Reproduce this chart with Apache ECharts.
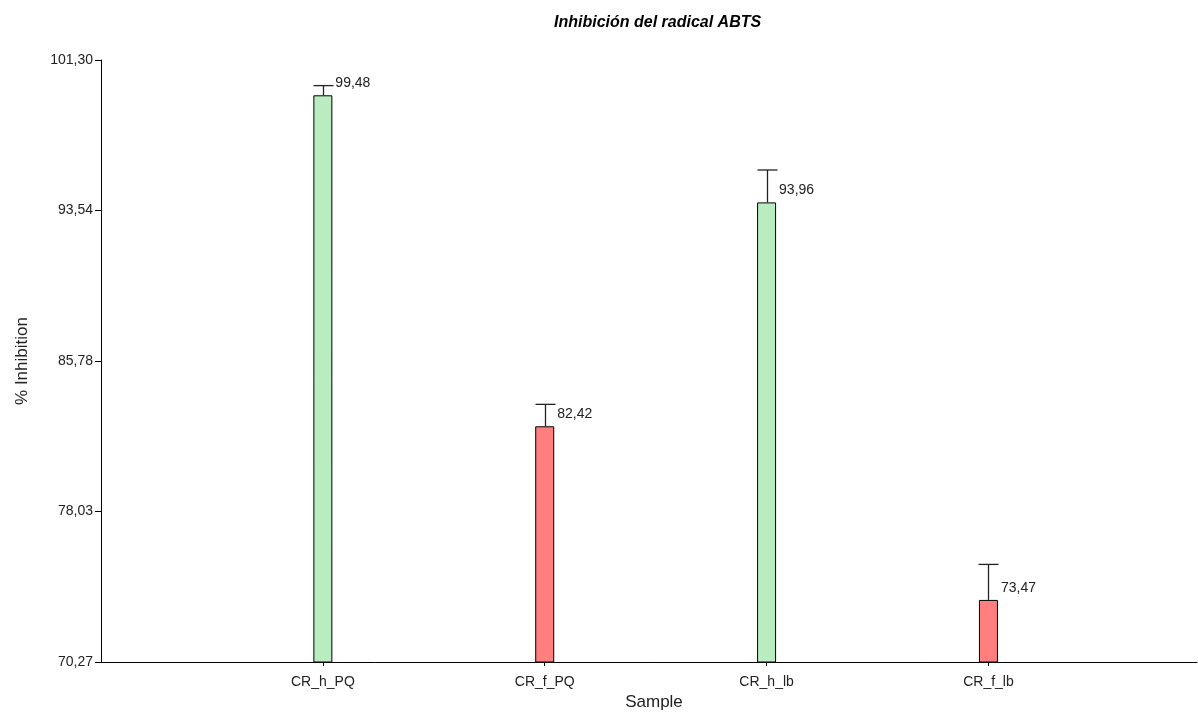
<!DOCTYPE html>
<html>
<head>
<meta charset="utf-8">
<script src="https://cdn.jsdelivr.net/npm/echarts@6/dist/echarts.min.js"></script>
<style>html,body{margin:0;padding:0;background:#fff}#c{width:1198px;height:714px}</style>
</head>
<body>
<div id="c"></div>
<script>
var categories = ['CR_h_PQ', 'CR_f_PQ', 'CR_h_lb', 'CR_f_lb'];
var values = [99.48, 82.42, 93.96, 73.47];
var errors = [0.5, 1.13, 1.67, 1.83];
var barColors = ['#b9ecc0', '#ff7f7f', '#b9ecc0', '#ff7f7f'];
var yTicks = [70.27, 78.03, 85.78, 93.54, 101.30];
var xPositions = [1, 2, 3, 4];

function fmt(v) { return v.toFixed(2).replace('.', ','); }

var chart = echarts.init(document.getElementById('c'), null, {renderer: 'canvas'});
var barData = values.map(function (v, i) {
  return {value: [xPositions[i], v], itemStyle: {color: barColors[i]}};
});
var errData = values.map(function (v, i) { return [xPositions[i], v, v + errors[i]]; });

chart.setOption({
  animation: false,
  title: {
    text: 'Inhibición del radical ABTS', left: 549, top: 10,
    textStyle: {fontFamily: 'Liberation Sans', fontSize: 16, fontWeight: 'bold', fontStyle: 'italic', color: '#000'}
  },
  grid: {left: 101, right: 1, top: 60, bottom: 52, containLabel: false, outerBoundsMode: 'none'},
  xAxis: {
    type: 'value', min: 0, max: 4.94,
    name: 'Sample', nameLocation: 'middle', nameGap: 32,
    nameTextStyle: {fontFamily: 'Liberation Sans', fontSize: 17, color: '#222', padding: [0, 0, 0, 10]},
    axisLine: {lineStyle: {color: '#000', width: 1}},
    axisTick: {show: true, length: 4, lineStyle: {color: '#000'}, customValues: xPositions},
    axisLabel: {
      customValues: xPositions, margin: 13,
      fontFamily: 'Liberation Sans', fontSize: 14, color: '#222',
      formatter: function (v) { return categories[Math.round(v) - 1] || ''; }
    },
    splitLine: {show: false}
  },
  yAxis: {
    type: 'value', min: 70.27, max: 101.30,
    name: '% Inhibition', nameLocation: 'middle', nameGap: 70, nameRotate: 90,
    nameTextStyle: {fontFamily: 'Liberation Sans', fontSize: 17, color: '#222'},
    axisLine: {show: true, lineStyle: {color: '#000', width: 1}},
    axisTick: {show: true, length: 6, lineStyle: {color: '#000'}, customValues: yTicks},
    axisLabel: {
      customValues: yTicks, margin: 8,
      fontFamily: 'Liberation Sans', fontSize: 14, color: '#222',
      formatter: function (v) { return fmt(v); }
    },
    splitLine: {show: false}
  },
  series: [
    {
      type: 'bar', data: barData, barWidth: 19,
      itemStyle: {borderColor: '#000', borderWidth: 1},
      label: {
        show: true,
        position: [22, -12],
        verticalAlign: 'middle', align: 'left',
        fontFamily: 'Liberation Sans', fontSize: 14, color: '#222',
        formatter: function (p) { return fmt(p.value[1]); }
      },
      z: 2
    },
    {
      type: 'custom', data: errData,
      renderItem: function (params, api) {
        var x = api.value(0);
        var lo = api.coord([x, api.value(1)]);
        var hi = api.coord([x, api.value(2)]);
        var cx = Math.round(lo[0]) + 0.5;
        var hw = 10;
        return {
          type: 'group',
          children: [
            {type: 'line', shape: {x1: cx, y1: lo[1], x2: cx, y2: hi[1]}, style: {stroke: '#222', lineWidth: 1.3}},
            {type: 'line', shape: {x1: cx - hw, y1: hi[1], x2: cx + hw, y2: hi[1]}, style: {stroke: '#222', lineWidth: 1.3}}
          ]
        };
      },
      z: 3
    }
  ]
});
</script>
</body>
</html>
